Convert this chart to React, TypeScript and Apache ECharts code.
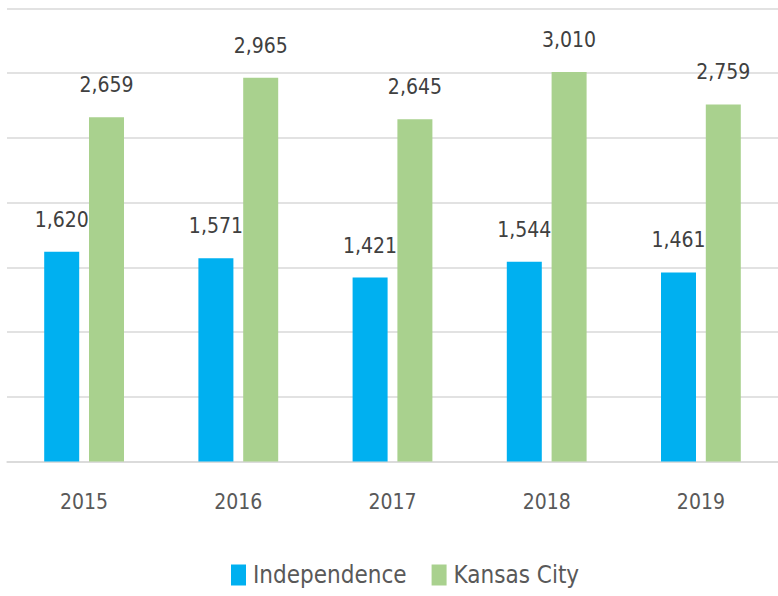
import React, { useEffect, useRef } from "react";
import * as echarts from "echarts";

const years = ["2015", "2016", "2017", "2018", "2019"];
const independence = [1620, 1571, 1421, 1544, 1461];
const kansasCity = [2659, 2965, 2645, 3010, 2759];

const FONT = "'Liberation Sans Narrow', 'DejaVu Sans Condensed', 'Liberation Sans', sans-serif";

export default function App() {
  const ref = useRef<HTMLDivElement>(null);
  useEffect(() => {
    if (!ref.current) return;
    const chart = echarts.init(ref.current, null, { renderer: "svg" });
    const label = {
      show: true,
      position: "top" as const,
      distance: 21.5,
      color: "#404040",
      fontFamily: FONT,
      fontSize: 21,
      formatter: (p: any) => Number(p.value).toLocaleString("en-US"),
    };
    chart.setOption({
      animation: false,
      backgroundColor: "#ffffff",
      grid: { left: 7, right: -2, top: 8.5, bottom: 134.5, containLabel: false },
      legend: {
        top: 563,
        left: 231,
        padding: 0,
        itemWidth: 15,
        itemHeight: 21,
        itemGap: 25,
        icon: "rect",
        textStyle: { fontFamily: FONT, fontSize: 24, color: "#595959", padding: [0, 0, 0, 2] },
        data: ["Independence", "Kansas City"],
      },
      xAxis: {
        type: "category",
        data: years,
        axisLine: { lineStyle: { color: "#d9d9d9", width: 1.5 } },
        axisTick: { show: false },
        axisLabel: { color: "#595959", fontFamily: FONT, fontSize: 21, margin: 30 },
      },
      yAxis: {
        type: "value",
        min: 0,
        max: 3500,
        interval: 500,
        axisLabel: { show: false },
        axisLine: { show: false },
        axisTick: { show: false },
        splitLine: { lineStyle: { color: "#d9d9d9", width: 1.5 } },
      },
      series: [
        {
          name: "Independence",
          type: "bar",
          data: independence,
          barWidth: 35,
          barGap: "28%",
          itemStyle: { color: "#00B0F0" },
          label,
        },
        {
          name: "Kansas City",
          type: "bar",
          data: kansasCity,
          barWidth: 35,
          barGap: "28%",
          itemStyle: { color: "#A9D18E" },
          label,
        },
      ],
    });
    return () => chart.dispose();
  }, []);
  return (
    <div
      ref={ref}
      style={{ position: "fixed", left: 0, top: 0, width: 778, height: 596, background: "#fff" }}
    />
  );
}
